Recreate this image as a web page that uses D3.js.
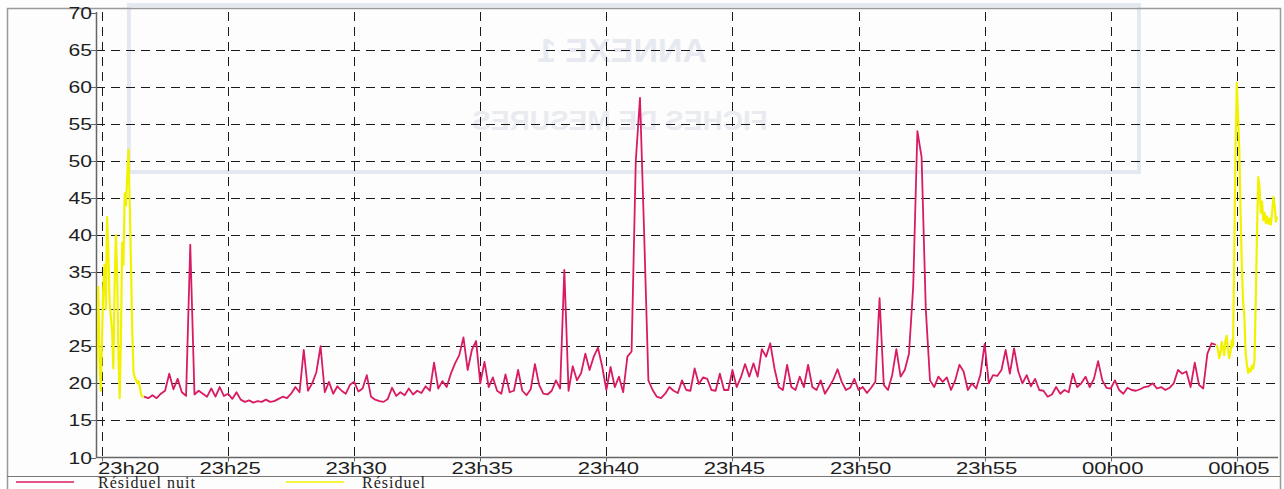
<!DOCTYPE html>
<html>
<head>
<meta charset="utf-8">
<script src="https://cdn.jsdelivr.net/npm/d3@7"></script>
<style>
  body { margin: 0; background: #fdfdfd; }
  .grid line { stroke: #1a1a1a; stroke-width: 1; stroke-dasharray: 9,6; }
  .tick-label { font-family: "Liberation Sans", Arial, sans-serif; font-size: 16px; fill: #1e1e1e; }
  .legend-label { font-family: "Liberation Serif", "Times New Roman", serif; font-size: 16px; fill: #222; letter-spacing: 1px; }
</style>
</head>
<body>
<script>
var width = 1284,
    height = 489;

// seconds relative to 23h20:00
var domainStart = -14.3,
    domainEnd = 2798;

var yTicks = [10, 15, 20, 25, 30, 35, 40, 45, 50, 55, 60, 65, 70];
var xTickMinutes = [0, 5, 10, 15, 20, 25, 30, 35, 40, 45];

// "Résiduel nuit" : one value every 10 s from 23h21:40
var nuitStart = 100,
    nuitStep = 10;
var residuelNuit = [
  18.2,18.0,18.4,18.0,18.6,19.0,21.3,19.2,20.6,18.8,
  18.3,38.7,18.5,19.0,18.6,18.2,19.3,18.2,19.5,18.3,
  18.6,17.9,18.8,17.8,17.5,17.7,17.4,17.6,17.5,17.8,
  17.5,17.6,17.9,18.2,18.0,18.6,19.5,18.8,24.5,19.0,
  20.0,21.5,25.0,18.8,20.2,18.6,19.6,19.0,18.6,19.8,
  20.2,18.9,19.3,21.1,18.2,17.8,17.6,17.5,17.9,19.4,
  18.3,18.8,18.4,19.3,18.5,19.0,18.7,19.6,19.0,22.8,
  19.3,20.3,19.5,21.3,22.7,23.8,26.2,21.8,24.5,25.7,
  20.0,22.9,19.5,20.8,19.0,18.6,21.2,18.8,19.0,21.8,
  19.0,18.4,19.2,22.6,19.8,18.6,18.5,19.0,20.4,19.3,
  35.3,19.0,22.3,20.4,21.4,24.0,21.8,23.6,24.8,22.3,
  19.1,22.2,19.5,20.9,18.8,23.6,24.3,50.0,58.5,40.0,
  20.4,19.1,18.2,18.0,18.6,19.5,19.0,18.7,20.4,19.1,
  19.0,22.0,19.9,20.8,20.6,19.1,19.0,21.3,19.1,19.1,
  21.8,19.5,20.8,22.6,20.9,22.7,20.9,24.6,23.6,25.4,
  22.0,19.5,19.1,22.5,19.5,19.1,20.9,19.5,22.5,19.5,
  19.1,20.4,18.6,19.5,20.5,21.9,20.2,19.1,19.4,20.6,
  19.1,19.5,18.7,19.4,20.2,31.5,19.8,19.1,21.1,24.6,
  20.9,21.8,24.0,33.0,54.0,50.5,30.0,20.4,19.5,20.9,
  20.2,20.8,19.1,20.4,22.5,21.6,19.1,20.0,19.3,21.2,
  25.3,20.0,21.1,21.0,21.8,24.5,21.3,24.7,21.6,20.0,
  21.1,19.6,20.6,19.1,19.0,18.2,18.5,19.5,18.6,19.1,
  18.8,21.3,19.5,20.0,20.9,19.5,20.6,23.0,20.4,19.4,
  19.3,20.4,19.1,18.6,19.4,19.1,19.0,19.2,19.5,19.6,
  20.0,19.3,19.5,19.1,19.4,20.0,21.8,21.3,21.6,19.5,
  22.8,19.8,19.3,24.0,25.4,25.2
];

// "Résiduel" : one value every 3 s, two pieces
var residuelStep = 3;
var residuelStartA = -15;
var residuelA = [
  18.5,25,33,23,19,26,33,36,30,42.4,
  38,31,29,27,22,33,40,35,24,18,
  26,39,36,45.6,44,48,51.5,44,36,27,
  21.5,20.8,20.5,20,20.3,19.5,18.5,18.2,18.2
];
var residuelStartB = 2652;
var residuelB = [
  25.2,24.6,23.4,24.0,25.6,24.8,23.8,25.8,26.4,24.6,
  23.4,24.2,25.8,25.0,38.0,52.0,60.5,56.0,51.4,43.0,
  35.7,31.0,29.0,24.0,22.5,21.4,22.0,21.6,22.4,22.0,
  23.0,31.0,40.2,47.8,46.5,43.0,44.5,42.0,43.0,41.6,
  42.5,41.5,42.2,41.4,43.0,45.1,44.0,41.8,42.5
];

var legendItems = [
  {label: "Résiduel nuit", color: "#d81b63"},
  {label: "Résiduel", color: "#f2f200"}
];

var base = new Date(2000, 0, 1, 23, 20, 0);
function toDate(sec) { return new Date(base.getTime() + sec * 1000); }

function toPoints(start, step, values) {
  return values.map(function(v, i) { return {t: toDate(start + i * step), v: v}; });
}

var plot = {left: 96, right: 1278, top: 12, bottom: 457.5};

var x = d3.scaleTime()
    .domain([toDate(domainStart), toDate(domainEnd)])
    .range([plot.left, plot.right]);

var y = d3.scaleLinear()
    .domain([10, 70])
    .range([plot.bottom, plot.top + 0.5]);

var svg = d3.select("body")
    .append("svg")
    .attr("width", width)
    .attr("height", height);

// paper show-through from the page behind
var ghost = svg.append("g").attr("class", "ghost");
ghost.append("rect")
    .attr("x", 129).attr("y", 5)
    .attr("width", 1010).attr("height", 167)
    .attr("fill", "none")
    .attr("stroke", "#e4e8f0")
    .attr("stroke-width", 4);
ghost.append("text")
    .attr("transform", "translate(622,62) scale(-1,1)")
    .attr("text-anchor", "middle")
    .style("font", "bold 34px 'Liberation Sans', Arial, sans-serif")
    .style("fill", "#e7e9f0")
    .text("ANNEXE 1");
ghost.append("text")
    .attr("transform", "translate(620,130) scale(-1,1)")
    .attr("text-anchor", "middle")
    .style("font", "bold 28px 'Liberation Sans', Arial, sans-serif")
    .style("fill", "#e9ebf1")
    .text("FICHES DE MESURES");

// outer frame
svg.append("path")
    .attr("d", "M7.5,489V8.5H1280.5V489")
    .attr("fill", "none")
    .attr("stroke", "#9a9a9a")
    .attr("stroke-width", 1.5);
svg.append("line")
    .attr("x1", 7).attr("x2", 1280)
    .attr("y1", 476.5).attr("y2", 476.5)
    .attr("stroke", "#777")
    .attr("stroke-width", 1);

// grid
var grid = svg.append("g").attr("class", "grid");
grid.selectAll("line.h")
    .data(yTicks.filter(function(d) { return d > 10 && d < 70; }))
    .enter()
    .append("line")
    .attr("class", "h")
    .attr("x1", plot.left)
    .attr("x2", plot.right)
    .attr("y1", function(d) { return Math.round(y(d)) + 0.5; })
    .attr("y2", function(d) { return Math.round(y(d)) + 0.5; });

var xTicks = xTickMinutes.map(function(m) { return toDate(m * 60); });
grid.selectAll("line.v")
    .data(xTicks)
    .enter()
    .append("line")
    .attr("class", "v")
    .attr("x1", function(d) { return Math.round(x(d)) + 0.5; })
    .attr("x2", function(d) { return Math.round(x(d)) + 0.5; })
    .attr("y1", plot.top)
    .attr("y2", plot.bottom);

// axes
svg.append("line")
    .attr("x1", plot.left + 0.5).attr("x2", plot.left + 0.5)
    .attr("y1", plot.top).attr("y2", plot.bottom)
    .attr("stroke", "#666").attr("stroke-width", 1.5);
svg.append("line")
    .attr("x1", plot.left).attr("x2", plot.right)
    .attr("y1", plot.bottom).attr("y2", plot.bottom)
    .attr("stroke", "#666").attr("stroke-width", 1.5);

svg.selectAll("line.ytick")
    .data(yTicks)
    .enter()
    .append("line")
    .attr("class", "ytick")
    .attr("x1", plot.left - 5).attr("x2", plot.left)
    .attr("y1", function(d) { return Math.round(y(d)) + 0.5; })
    .attr("y2", function(d) { return Math.round(y(d)) + 0.5; })
    .attr("stroke", "#666");

svg.selectAll("text.ylab")
    .data(yTicks)
    .enter()
    .append("text")
    .attr("class", "tick-label ylab")
    .attr("text-anchor", "end")
    .attr("transform", function(d) { return "translate(" + (plot.left - 4) + "," + (y(d) + 6) + ") scale(1.32,1)"; })
    .text(function(d) { return d; });

svg.selectAll("line.xtick")
    .data(xTicks)
    .enter()
    .append("line")
    .attr("class", "xtick")
    .attr("x1", function(d) { return Math.round(x(d)) + 0.5; })
    .attr("x2", function(d) { return Math.round(x(d)) + 0.5; })
    .attr("y1", plot.bottom).attr("y2", plot.bottom + 4)
    .attr("stroke", "#666");

var fmt = d3.timeFormat("%Hh%M");
svg.selectAll("text.xlab")
    .data(xTicks)
    .enter()
    .append("text")
    .attr("class", "tick-label xlab")
    .attr("text-anchor", function(d, i) { return i === 0 ? "start" : "middle"; })
    .attr("transform", function(d, i) {
        var px = i === 0 ? plot.left + 2 : x(d) + 2;
        return "translate(" + px + ",474) scale(1.38,1)";
    })
    .text(function(d) { return fmt(d); });

// series
svg.append("clipPath")
    .attr("id", "plot-clip")
    .append("rect")
    .attr("x", plot.left + 1).attr("y", plot.top)
    .attr("width", plot.right - plot.left - 1)
    .attr("height", plot.bottom - plot.top);

var line = d3.line()
    .x(function(d) { return x(d.t); })
    .y(function(d) { return y(d.v); });

var series = svg.append("g").attr("clip-path", "url(#plot-clip)");

series.selectAll("path.residuel")
    .data([toPoints(residuelStartA, residuelStep, residuelA), toPoints(residuelStartB, residuelStep, residuelB)])
    .enter()
    .append("path")
    .attr("class", "residuel")
    .attr("d", line)
    .attr("fill", "none")
    .attr("stroke", legendItems[1].color)
    .attr("stroke-width", 2.2)
    .attr("stroke-linejoin", "round");

series.append("path")
    .datum(toPoints(nuitStart, nuitStep, residuelNuit))
    .attr("class", "nuit")
    .attr("d", line)
    .attr("fill", "none")
    .attr("stroke", legendItems[0].color)
    .attr("stroke-width", 1.8)
    .attr("stroke-linejoin", "round");

// legend (sits at the very bottom edge of the picture)
var legendX = [16, 286];
var legend = svg.selectAll("g.legend")
    .data(legendItems)
    .enter()
    .append("g")
    .attr("class", "legend")
    .attr("transform", function(d, i) { return "translate(" + legendX[i] + ",482)"; });

legend.append("line")
    .attr("x1", 0).attr("x2", 58)
    .attr("stroke", function(d) { return d.color; })
    .attr("stroke-width", 1.6);

legend.append("text")
    .attr("class", "legend-label")
    .attr("x", function(d, i) { return i === 0 ? 82 : 76; })
    .attr("y", 6)
    .text(function(d) { return d.label; });
</script>
</body>
</html>
